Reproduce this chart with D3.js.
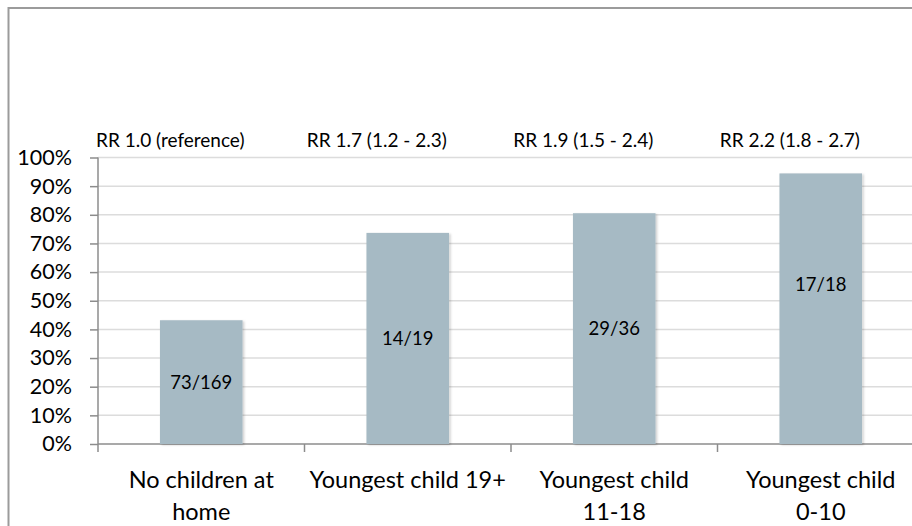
<!DOCTYPE html>
<html>
<head>
<meta charset="utf-8">
<script src="https://cdn.jsdelivr.net/npm/d3@7"></script>
<style>
  html, body { margin: 0; padding: 0; background: #fff; }
  svg { display: block; font-family: Lato, "Open Sans", sans-serif; }
</style>
</head>
<body>
<svg id="chart" width="912" height="526"></svg>
<script>
// Share of respondents in each household group, with counts and risk ratios
const categories = ["No children at home", "Youngest child 19+", "Youngest child 11-18", "Youngest child 0-10"];
const categoryLines = [["No children at", "home"], ["Youngest child 19+"], ["Youngest child", "11-18"], ["Youngest child", "0-10"]];
const cases = [73, 14, 29, 17];
const totals = [169, 19, 36, 18];
const rrLabels = ["RR 1.0 (reference)", "RR 1.7 (1.2 - 2.3)", "RR 1.9 (1.5 - 2.4)", "RR 2.2 (1.8 - 2.7)"];
const yTicks = [0, 0.1, 0.2, 0.3, 0.4, 0.5, 0.6, 0.7, 0.8, 0.9, 1.0];

const rows = categories.map((c, i) => ({
  cat: c,
  lines: categoryLines[i],
  share: cases[i] / totals[i],
  count: `${cases[i]}/${totals[i]}`,
  rr: rrLabels[i]
}));

const svg = d3.select("#chart");

// Plot area runs past the right edge of the frame
const plot = { left: 98, right: 924, top: 157.5, bottom: 444 };

const x = d3.scaleBand().domain(categories).range([plot.left, plot.right]).padding(0);
const y = d3.scaleLinear().domain([0, 1]).range([plot.bottom, plot.top]);
const barW = x.bandwidth() * 0.4;

// Soft shadow under the bars
const defs = svg.append("defs");
const f = defs.append("filter").attr("id", "barShadow").attr("x", "-10%").attr("y", "-10%").attr("width", "130%").attr("height", "130%");
f.append("feDropShadow").attr("dx", 1.5).attr("dy", 1).attr("stdDeviation", 1.2)
  .attr("flood-color", "#000").attr("flood-opacity", 0.2);

// Outer frame (top and left edges)
svg.append("path")
  .attr("d", "M8.5,526 L8.5,8 L912,8")
  .attr("fill", "none").attr("stroke", "#9b9b9b").attr("stroke-width", 2);

// Horizontal gridlines
svg.append("g")
  .selectAll("line")
  .data(yTicks.filter(t => t > 0))
  .join("line")
  .attr("x1", plot.left).attr("x2", plot.right)
  .attr("y1", d => y(d)).attr("y2", d => y(d))
  .attr("stroke", "#dcdcdc").attr("stroke-width", 1.5);

// Y axis
const yAxis = svg.append("g")
  .attr("transform", `translate(${plot.left},0)`)
  .call(d3.axisLeft(y).tickValues(yTicks).tickFormat(d3.format(".0%")).tickSize(8).tickPadding(18));
yAxis.select(".domain").attr("stroke", "#8c8c8c").attr("stroke-width", 1.5)
  .attr("d", `M0,${plot.top}V${plot.bottom + 8}`);
yAxis.selectAll(".tick line").attr("stroke", "#8c8c8c").attr("stroke-width", 1.5);
yAxis.selectAll(".tick text").attr("font-size", 21.5).attr("fill", "#000").attr("font-family", "Lato");

// X axis line with category boundary ticks
svg.append("line")
  .attr("x1", plot.left).attr("x2", plot.right)
  .attr("y1", plot.bottom).attr("y2", plot.bottom)
  .attr("stroke", "#8c8c8c").attr("stroke-width", 1.5);
svg.append("g")
  .selectAll("line")
  .data(categories.slice(1))
  .join("line")
  .attr("x1", d => x(d)).attr("x2", d => x(d))
  .attr("y1", plot.bottom).attr("y2", plot.bottom + 8)
  .attr("stroke", "#8c8c8c").attr("stroke-width", 1.5);

// Bars
svg.append("g")
  .selectAll("rect")
  .data(rows)
  .join("rect")
  .attr("x", d => x(d.cat) + (x.bandwidth() - barW) / 2)
  .attr("y", d => y(d.share))
  .attr("width", barW)
  .attr("height", d => y(0) - y(d.share))
  .attr("fill", "#a6bac4")
  .attr("filter", "url(#barShadow)");

// Count labels inside the bars
const labelNudge = { "Youngest child 0-10": -24 };
svg.append("g")
  .selectAll("text")
  .data(rows)
  .join("text")
  .attr("x", d => x(d.cat) + x.bandwidth() / 2)
  .attr("y", d => (y(d.share) + y(0)) / 2 + (labelNudge[d.cat] || 0))
  .attr("dy", "0.36em")
  .attr("text-anchor", "middle")
  .attr("font-size", 18.5)
  .attr("fill", "#000")
  .text(d => d.count);

// Risk ratio annotations above the plot
svg.append("g")
  .selectAll("text")
  .data(rows)
  .join("text")
  .attr("x", d => x(d.cat) + x.bandwidth() * 0.35)
  .attr("y", 147)
  .attr("text-anchor", "middle")
  .attr("font-size", 19)
  .attr("fill", "#000")
  .text(d => d.rr);

// Category labels, one or two lines each
const cat = svg.append("g")
  .selectAll("text")
  .data(rows)
  .join("text")
  .attr("x", d => x(d.cat) + x.bandwidth() / 2)
  .attr("y", 488)
  .attr("text-anchor", "middle")
  .attr("font-size", 23.5)
  .attr("fill", "#000");
cat.selectAll("tspan")
  .data(d => d.lines.map(l => ({ l, cx: x(d.cat) + x.bandwidth() / 2 })))
  .join("tspan")
  .attr("x", d => d.cx)
  .attr("dy", (d, i) => i === 0 ? 0 : 32)
  .text(d => d.l);
</script>
</body>
</html>
